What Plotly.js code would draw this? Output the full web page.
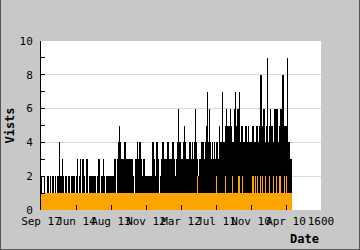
<!DOCTYPE html>
<html>
<head>
<meta charset="utf-8">
<script src="https://cdn.plot.ly/plotly-3.0.1.min.js"></script>
<style>
html,body{margin:0;padding:0;background:#c8c8c8;}
#chart{width:360px;height:250px;}
#frame{position:absolute;left:0;top:0;width:360px;height:250px;box-sizing:border-box;border:1px solid #555;border-top:none;pointer-events:none;}
</style>
</head>
<body>
<div id="chart"></div>
<div id="frame"></div>
<script>
// Tick labels along the date axis (one every 35 days)
const tickPositions = [0, 35, 70, 105, 140, 175, 210, 245, 280];
const tickLabels = ["Sep 17", "Jun 14", "Aug 13", "Nov 12", "Mar 12", "Jul 11", "Nov 10", "Apr 10", "1600"];

// Daily visits (black)
const visits = [
 2,1,1,2,1,1,2,2,1,2, 1,2,2,1,2,1,2,2,4,2,
 2,3,2,1,2,2,1,2,2,1, 2,2,2,2,1,2,3,1,2,3,
 1,3,3,2,1,3,3,1,2,2, 2,2,2,2,2,1,2,3,3,1,
 2,2,3,2,1,2,2,2,2,2, 2,2,2,3,3,1,3,4,5,4,
 3,3,3,4,4,3,3,3,3,3, 3,3,2,1,3,3,4,3,4,4,
 3,2,3,3,2,2,2,2,2,2, 2,4,4,3,2,4,4,3,1,2,
 3,4,4,3,3,3,4,4,3,3, 3,4,4,3,2,3,4,6,4,4,
 3,3,4,5,4,3,3,3,4,4, 3,4,3,4,6,4,3,2,3,3,
 4,4,4,3,4,5,7,4,6,4, 3,4,3,4,3,4,4,3,5,4,
 4,7,4,4,5,6,5,5,5,6, 5,4,4,6,7,5,6,6,7,4,
 5,5,4,4,5,5,4,5,4,4, 4,5,5,4,4,5,5,4,5,8,
 8,5,6,6,4,5,9,4,5,6, 5,5,4,6,6,6,6,4,5,6,
 6,8,8,5,5,5,9,4,4,3, 3
];

// Daily unique visitors (orange)
const visitors = [
 1,1,1,1,1,1,1,1,1,1, 1,1,1,1,1,1,1,1,1,1,
 1,1,1,1,1,1,1,1,1,1, 1,1,1,1,1,1,1,1,1,1,
 1,1,1,1,1,1,1,1,1,1, 1,1,1,1,1,1,1,1,1,1,
 1,1,1,1,1,1,1,1,1,1, 1,1,1,1,1,1,1,1,1,1,
 1,1,1,1,1,1,1,1,1,1, 1,1,1,1,1,1,1,1,1,1,
 1,1,1,1,1,1,1,1,1,1, 1,1,1,1,1,1,1,1,1,1,
 1,1,1,1,1,1,1,1,1,1, 1,1,1,1,1,1,1,1,1,1,
 1,1,1,1,1,1,1,1,1,1, 1,1,1,1,1,1,2,1,1,1,
 1,1,1,1,1,1,1,1,1,1, 1,1,1,1,1,2,1,1,1,1,
 1,1,1,1,2,1,1,1,1,1, 1,2,1,1,1,1,1,2,2,1,
 1,2,1,1,1,1,1,1,1,1, 1,2,2,1,2,1,2,1,1,2,
 1,2,1,1,2,1,1,1,2,1, 1,1,2,1,1,2,1,1,2,2,
 1,1,1,2,1,2,1,1,1,1, 1
];

const days = visits.map((_, i) => i + 0.5);

const mono = "DejaVu Sans Mono, monospace";

const traces = [
  {type: "bar", x: days, y: visits, width: 1, marker: {color: "#000000", line: {width: 0}}, hoverinfo: "skip"},
  {type: "bar", x: days, y: visitors, width: 1, marker: {color: "#ffa500", line: {width: 0}}, hoverinfo: "skip"}
];

const layout = {
  width: 360, height: 250,
  margin: {l: 41, r: 39, t: 41, b: 40, pad: 0},
  paper_bgcolor: "#c8c8c8",
  plot_bgcolor: "#ffffff",
  showlegend: false,
  barmode: "overlay",
  bargap: 0,
  font: {family: mono, size: 11, color: "#000"},
  xaxis: {
    range: [0, 280], tickmode: "array", tickvals: tickPositions, ticktext: tickLabels,
    tickangle: 0, ticks: "inside", ticklen: 5, tickcolor: "#000",
    showgrid: false, zeroline: false, showline: false,
    ticklabelstandoff: 3,
    tickfont: {family: mono, size: 11, color: "#000"}
  },
  yaxis: {
    range: [0, 10], dtick: 2, tick0: 0, ticks: "inside", ticklen: 4, tickcolor: "#000",
    showgrid: true, gridcolor: "#d9d9d9", zeroline: false, showline: true, linecolor: "#000", linewidth: 1,
    minor: {dtick: 1, ticks: "inside", ticklen: 4, tickcolor: "#000", showgrid: false},
    ticklabelstandoff: 5,
    tickfont: {family: mono, size: 11, color: "#000"},
    title: {text: "Vists", font: {family: mono, size: 12, color: "#000", weight: "bold"}, standoff: 2}
  },
  annotations: [
    {text: "Date", xref: "paper", yref: "paper", x: 1, y: 0, xanchor: "right", yanchor: "top", yshift: -20,
     showarrow: false, font: {family: mono, size: 12, color: "#000", weight: "bold"}}
  ]
};

Plotly.newPlot("chart", traces, layout, {staticPlot: true, displayModeBar: false});
</script>
</body>
</html>
